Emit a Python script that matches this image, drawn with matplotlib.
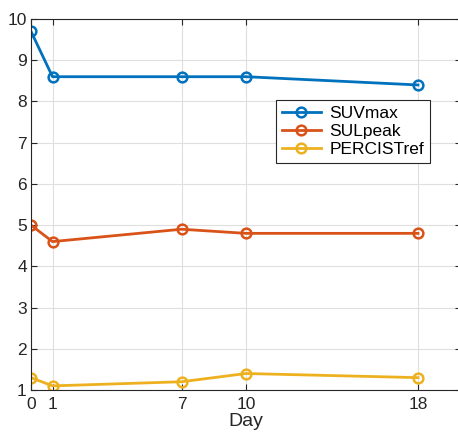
import numpy as np
import matplotlib
matplotlib.use('Agg')
import matplotlib.pyplot as plt

days = [0, 1, 7, 10, 18]
suvmax = [9.7, 8.6, 8.6, 8.6, 8.4]
sulpeak = [5.0, 4.6, 4.9, 4.8, 4.8]
percistref = [1.3, 1.1, 1.2, 1.4, 1.3]
nomi = ['SUVmax', 'SULpeak', 'PERCISTref']
colori = ['#0072BD', '#D95319', '#EDB120']

plt.rcParams['font.family'] = ['Liberation Sans', 'DejaVu Sans']

fig = plt.figure(figsize=(4.58, 4.44), dpi=100)
ax = fig.add_axes([31/458, 54/444, 430/458, 371/444])

for serie, nome, col in zip([suvmax, sulpeak, percistref], nomi, colori):
	ax.plot(days, serie, color=col, lw=2, marker='o', ms=7, mfc='none', mew=1.8, label=nome)

ax.set_xlim(0, 20)
ax.set_ylim(1, 10)
ax.set_xticks(days)
ax.set_yticks(range(1, 11))
ax.grid(True, color='#dfdfdf', lw=0.8)
ax.set_axisbelow(True)
ax.tick_params(direction='in', length=4, labelsize=12.5, colors='#262626', width=0.8,
	top=True, right=True)
ax.tick_params(axis='x', pad=5)
ax.tick_params(axis='y', pad=3)
for s in ax.spines.values():
	s.set_color('#262626')
	s.set_linewidth(0.8)
ax.set_xlabel('Day', fontsize=14, color='#262626', labelpad=1)

leg = ax.legend(loc='upper right', bbox_to_anchor=(0.928, 0.782), fontsize=12.5,
	fancybox=False, framealpha=1, edgecolor='#262626', handlelength=2.2,
	borderpad=0.35, labelspacing=0.15, handletextpad=0.5, borderaxespad=0)
leg.get_frame().set_linewidth(0.8)

fig.savefig('out.png', dpi=100)
